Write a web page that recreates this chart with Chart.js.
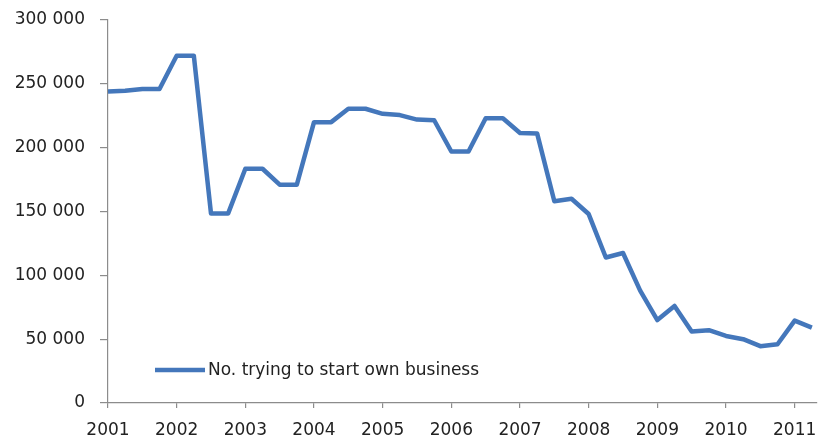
<!DOCTYPE html>
<html>
<head>
<meta charset="utf-8">
<script src="https://cdn.jsdelivr.net/npm/chart.js@4.4.1/dist/chart.umd.min.js"></script>
<style>
  html, body { margin: 0; padding: 0; background: #ffffff; }
  #wrap { width: 822px; height: 443px; }
</style>
</head>
<body>
<div id="wrap"><canvas id="c" width="822" height="443"></canvas></div>
<script>
// Quarterly series, first quarter of 2001 through second quarter of 2011
const seriesLabel = 'No. trying to start own business';
const firstYear = 2001;
const quarterlyStartups = [
  244000, 244500, 246000, 246000,
  272000, 272000, 148500, 148500,
  183500, 183500, 171000, 171000,
  220000, 220000, 230500, 230500,
  226500, 225500, 222000, 221500,
  197000, 197000, 223000, 223000,
  211500, 211000, 158000, 160000,
  148000, 114000, 117500, 88000,
  65000, 76000, 56000, 57000,
  52500, 50000, 44500, 46000,
  64500, 59000
];
const yearTicks = [2001, 2002, 2003, 2004, 2005, 2006, 2007, 2008, 2009, 2010, 2011];
const valueTicks = [0, 50000, 100000, 150000, 200000, 250000, 300000];

const points = quarterlyStartups.map((v, i) => ({ x: firstYear + i / 4, y: v }));

const axisGrey = '#8c8c8c';
const textColour = '#222222';
const lineBlue = '#4477bb';
const fontFamily = '"DejaVu Sans", sans-serif';

const fmtThousands = v => String(v).replace(/\B(?=(\d{3})+(?!\d))/g, ' ');

// Legend drawn inside the plotting area, lower left
const innerLegend = {
  id: 'innerLegend',
  afterDatasetsDraw(chart) {
    const { ctx, chartArea } = chart;
    const ds = chart.data.datasets[0];
    const y = chartArea.bottom - 33;
    const x0 = chartArea.left + 47;
    ctx.save();
    ctx.strokeStyle = ds.borderColor;
    ctx.lineWidth = 4.5;
    ctx.beginPath();
    ctx.moveTo(x0, y);
    ctx.lineTo(x0 + 50, y);
    ctx.stroke();
    ctx.fillStyle = textColour;
    ctx.font = '17px ' + fontFamily;
    ctx.textBaseline = 'middle';
    ctx.textAlign = 'left';
    ctx.fillText(ds.label, x0 + 53, y + 1);
    ctx.restore();
  }
};

new Chart(document.getElementById('c'), {
  type: 'line',
  data: {
    datasets: [{
      label: seriesLabel,
      data: points,
      borderColor: lineBlue,
      backgroundColor: lineBlue,
      borderWidth: 4.5,
      borderJoinStyle: 'round',
      borderCapStyle: 'butt',
      pointRadius: 0,
      tension: 0,
      fill: false
    }]
  },
  options: {
    responsive: false,
    animation: false,
    layout: { padding: { top: 20, right: 5, left: 0, bottom: 0 } },
    plugins: {
      legend: { display: false },
      tooltip: { enabled: false }
    },
    scales: {
      x: {
        type: 'linear',
        min: firstYear,
        max: firstYear + 41.3 / 4,
        afterBuildTicks(scale) {
          scale.ticks = yearTicks.map(v => ({ value: v }));
        },
        afterFit(scale) {
          scale.height = 40;
          scale.paddingLeft = 0;
          scale.paddingRight = 0;
        },
        border: { display: true, color: axisGrey, width: 1.2 },
        grid: {
          drawOnChartArea: false,
          drawTicks: true,
          tickLength: 5,
          color: axisGrey,
          lineWidth: 1.2
        },
        ticks: {
          autoSkip: false,
          maxRotation: 0,
          padding: 12,
          color: textColour,
          font: { family: fontFamily, size: 17 },
          callback: v => String(v)
        }
      },
      y: {
        min: 0,
        max: 300000,
        afterBuildTicks(scale) {
          scale.ticks = valueTicks.map(v => ({ value: v }));
        },
        afterFit(scale) {
          scale.width = 108;
          scale.paddingTop = 0;
          scale.paddingBottom = 0;
        },
        border: { display: true, color: axisGrey, width: 1.2 },
        grid: {
          drawOnChartArea: false,
          drawTicks: true,
          tickLength: 8,
          color: axisGrey,
          lineWidth: 1.2
        },
        ticks: {
          padding: 15,
          color: textColour,
          font: { family: fontFamily, size: 17 },
          callback: v => fmtThousands(v)
        }
      }
    }
  },
  plugins: [innerLegend]
});
</script>
</body>
</html>
